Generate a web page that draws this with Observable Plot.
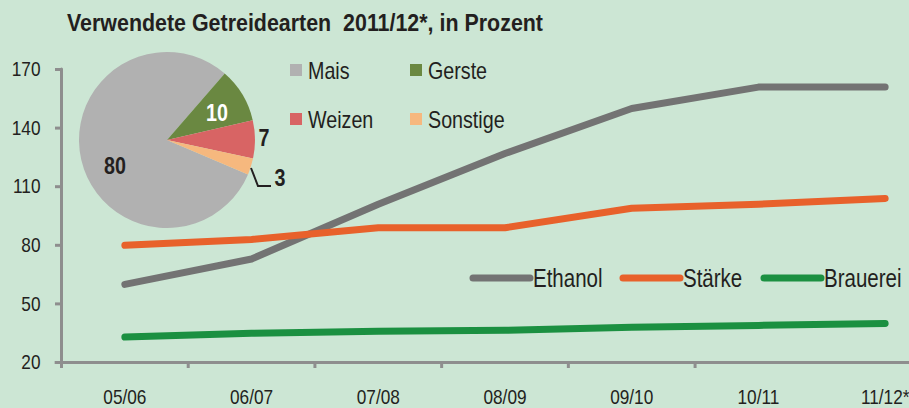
<!DOCTYPE html>
<html>
<head>
<meta charset="utf-8">
<script src="https://cdn.jsdelivr.net/npm/d3@7"></script>
<script src="https://cdn.jsdelivr.net/npm/@observablehq/plot@0.6"></script>
<style>
  html, body { margin: 0; padding: 0; background: #cce6d4; }
  #chart { width: 909px; height: 408px; overflow: hidden; }
</style>
</head>
<body>
<div id="chart"></div>
<script>
// ---- data ----
const categories = ["05/06", "06/07", "07/08", "08/09", "09/10", "10/11", "11/12*"];
const seriesNames = ["Ethanol", "Stärke", "Brauerei"];
const ethanol  = [60, 73, 101, 127, 150, 161, 161];
const staerke  = [80, 83, 89, 89, 99, 101, 104];
const brauerei = [33, 35, 36, 36.5, 38, 39, 40];
const yTicks = [20, 50, 80, 110, 140, 170];

const pieLabels = ["Mais", "Gerste", "Weizen", "Sonstige"];
const pieValues = [80, 10, 7, 3];

const title = "Verwendete Getreidearten  2011/12*, in Prozent";

// ---- styles ----
const lineColors = ["#737373", "#e8612b", "#1b9041"];
const pieColors = ["#b1b1b1", "#6a8841", "#d86464", "#f6b87e"];
const axisColor = "#8e8e8e";
const textColor = "#231f20";
const FONT = '"Liberation Sans", Arial, sans-serif';
const NARROW = 0.82; // emulate a narrow face

const seriesValues = [ethanol, staerke, brauerei];
const rows = [];
seriesNames.forEach((s, k) => seriesValues[k].forEach((v, i) => rows.push({series: s, i, value: v})));

const boundaries = d3.range(categories.length - 1).map(i => i - 0.5);

// overlay: title, pie, legends
function overlay() {
  const g = d3.create("svg:g").attr("text-anchor", "start");
  // title
  g.append("text").attr("x", 67).attr("y", 31).attr("text-anchor", "start")
    .attr("data-len", 476)
    .attr("font-family", FONT).attr("font-weight", "bold").attr("font-size", 23)
    .attr("fill", textColor).attr("xml:space", "preserve").text(title);

  // pie
  const cx = 167, cy = 140, r = 88;
  const pie = d3.pie().sort(null)
    .startAngle(113 * Math.PI / 180).endAngle((113 + 360) * Math.PI / 180);
  const arcs = pie(pieValues);
  const arc = d3.arc().innerRadius(0).outerRadius(r);
  const pg = g.append("g").attr("transform", `translate(${cx},${cy})`);
  pg.selectAll("path").data(arcs).join("path")
    .attr("d", arc).attr("fill", (d, i) => pieColors[i]);
  const labelPos = [[-52, 25, "#231f20"], [50, -28, "#ffffff"], [97, -3, "#231f20"], [113, 37, "#231f20"]];
  pg.selectAll("text").data(arcs).join("text")
    .attr("x", (d, i) => labelPos[i][0]).attr("y", (d, i) => labelPos[i][1])
    .attr("dy", "0.36em").attr("text-anchor", "middle")
    .attr("font-family", FONT).attr("font-weight", "bold").attr("font-size", 24)
    .attr("fill", (d, i) => labelPos[i][2]).text(d => d.data);
  pg.append("polyline").attr("points", "84,28 91,46 104,46")
    .attr("fill", "none").attr("stroke", "#231f20").attr("stroke-width", 2);

  // pie legend
  const pl = [[290, 70], [410, 70], [290, 119], [410, 119]];
  pieLabels.forEach((name, i) => {
    g.append("rect").attr("x", pl[i][0]).attr("y", pl[i][1] - 6).attr("width", 12).attr("height", 12)
      .attr("fill", pieColors[i]);
    g.append("text").attr("x", pl[i][0] + 18).attr("y", pl[i][1]).attr("dy", "0.36em")
      .attr("text-anchor", "start")
      .attr("font-family", FONT).attr("font-size", 24).attr("fill", textColor).text(name);
  });

  // line legend
  const ll = [473, 623, 764];
  seriesNames.forEach((name, i) => {
    g.append("line").attr("x1", ll[i]).attr("x2", ll[i] + 57).attr("y1", 278).attr("y2", 278)
      .attr("stroke", lineColors[i]).attr("stroke-width", 7).attr("stroke-linecap", "round");
    g.append("text").attr("x", ll[i] + 60).attr("y", 278).attr("dy", "0.36em")
      .attr("text-anchor", "start")
      .attr("font-family", FONT).attr("font-size", 25).attr("fill", textColor).text(name);
  });
  return g.node();
}

const chart = Plot.plot({
  width: 909,
  height: 408,
  marginLeft: 61,
  marginTop: 69,
  marginBottom: 46,
  marginRight: 0,
  style: {background: "#cce6d4", fontFamily: FONT, color: textColor},
  x: {type: "linear", domain: [-0.5, 6.5], range: [61, 948], axis: null},
  y: {domain: [20, 170], range: [362, 69], axis: null},
  color: {domain: seriesNames, range: lineColors},
  marks: [
    // y axis ticks and labels
    Plot.axisY({ticks: yTicks, tickSize: 6, stroke: axisColor, strokeWidth: 3, fontSize: 21,
      tickPadding: 15, fill: textColor, label: null, tickFormat: d => String(d)}),
    // y axis line
    Plot.ruleX([-0.5], {y1: 20, y2: 170, stroke: axisColor, strokeWidth: 3, strokeLinecap: "round"}),
    // x axis line
    Plot.ruleY([20], {x1: -0.55, x2: 6.5, stroke: axisColor, strokeWidth: 3}),
    // x boundary ticks
    Plot.axisX({ticks: boundaries, tickSize: 6, stroke: axisColor, strokeWidth: 3, label: null, tickFormat: () => ""}),
    // x labels
    Plot.axisX({ticks: d3.range(categories.length), tickSize: 0, tickPadding: 27, fontSize: 21,
      fill: textColor, label: null, tickFormat: i => categories[i]}),
    overlay,
    Plot.line(rows, {x: "i", y: "value", z: "series", stroke: "series", strokeWidth: 7,
      strokeLinecap: "round", strokeLinejoin: "round"})
  ]
});
document.getElementById("chart").appendChild(chart);

// condense all text to emulate Arial Narrow
chart.querySelectorAll("text").forEach(t => {
  const len = t.getComputedTextLength();
  if (!len) return;
  const target = t.getAttribute("data-len") ? +t.getAttribute("data-len") : len * NARROW;
  t.setAttribute("textLength", target);
  t.setAttribute("lengthAdjust", "spacingAndGlyphs");
});
</script>
</body>
</html>
